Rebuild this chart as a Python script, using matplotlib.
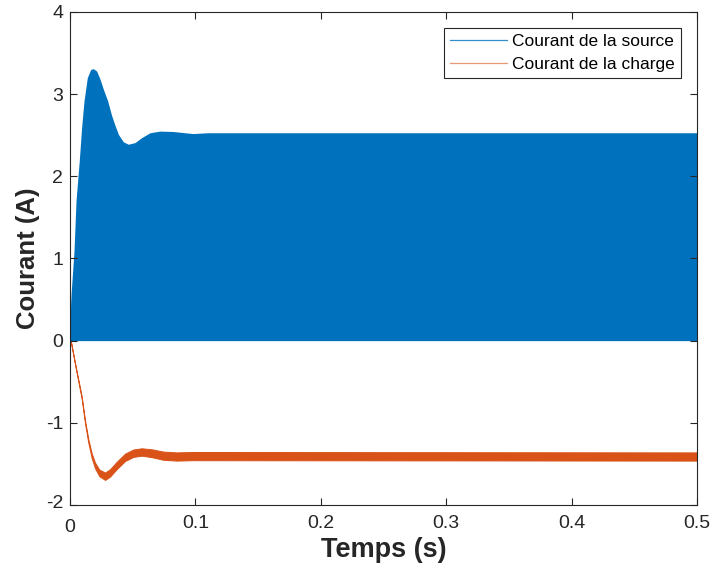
import matplotlib
matplotlib.use("Agg")
import matplotlib.pyplot as plt
from matplotlib.transforms import ScaledTranslation
import numpy as np

# Envelope of the source current (band goes from 0 up to this value)
t_src = [0, 0.0005, 0.001, 0.0032, 0.0048, 0.0074, 0.0093, 0.0112, 0.0138,
         0.0165, 0.0186, 0.0213, 0.024, 0.0266, 0.030, 0.0332, 0.0359,
         0.0386, 0.0425, 0.0465, 0.0518, 0.0571, 0.0638, 0.0718, 0.0824,
         0.098, 0.11, 0.5]
src_top = [0, 0.45, 0.6, 1.09, 1.7, 2.19, 2.60, 2.92, 3.20,
           3.30, 3.31, 3.28, 3.18, 3.06, 2.92, 2.74, 2.62,
           2.51, 2.42, 2.39, 2.41, 2.47, 2.53, 2.55, 2.545,
           2.52, 2.53, 2.53]

# Load current: centre value and ripple half-width
t_load = [0, 0.0008, 0.004, 0.0067, 0.0093, 0.012, 0.0146, 0.0173, 0.020,
          0.0234, 0.028, 0.0319, 0.0372, 0.0439, 0.0505, 0.0572, 0.0651,
          0.0744, 0.085, 0.098, 0.5]
load_mid = [0, -0.02, -0.28, -0.49, -0.69, -0.99, -1.22, -1.40, -1.52,
            -1.61, -1.65, -1.61, -1.52, -1.42, -1.37, -1.355, -1.37,
            -1.40, -1.41, -1.405, -1.41]
load_rip = [0, 0.004, 0.008, 0.012, 0.015, 0.018, 0.022, 0.028, 0.035,
            0.04, 0.045, 0.045, 0.045, 0.045, 0.045, 0.045, 0.048,
            0.05, 0.05, 0.05, 0.05]

x_ticks = [0, 0.1, 0.2, 0.3, 0.4, 0.5]
y_ticks = [-2, -1, 0, 1, 2, 3, 4]

blue = "#0072BD"
orange = "#D95319"
ink = "#262626"

plt.rcParams['font.family'] = ['Liberation Sans', 'DejaVu Sans']
plt.rcParams['axes.unicode_minus'] = False

fig = plt.figure(figsize=(7.12, 5.69), dpi=100)
ax = fig.add_axes([0.0983, 0.1125, 0.8807, 0.8665])

mid = np.array(load_mid)
rip = np.array(load_rip)

ax.fill_between(t_src, 0, src_top, color=blue, lw=0)
ax.fill_between(t_load, mid - rip, mid + rip, color=orange, lw=0.7, edgecolor=orange)

# legend handles
ax.plot([], [], color=blue, lw=0.9, alpha=0.8, label='Courant de la source')
ax.plot([], [], color=orange, lw=0.9, alpha=0.6, label='Courant de la charge')

ax.set_xlim(0, 0.5)
ax.set_ylim(-2, 4)
ax.set_xticks(x_ticks)
ax.set_xticklabels([f"{v:g}" for v in x_ticks], fontsize=14)
ax.set_yticks(y_ticks)
ax.set_yticklabels([str(v) for v in y_ticks], fontsize=14)
ax.tick_params(direction='in', top=True, right=True, length=5, width=0.8,
               colors=ink)
ax.tick_params(axis='x', pad=7)
ax.tick_params(axis='y', pad=5)
for s in ax.spines.values():
    s.set_color(ink)
    s.set_linewidth(0.8)

# matlab nudges the corner labels apart
lbl0 = ax.get_xticklabels()[0]
lbl0.set_transform(lbl0.get_transform() + ScaledTranslation(0, -4 / 100, fig.dpi_scale_trans))
lblm2 = ax.get_yticklabels()[0]
lblm2.set_transform(lblm2.get_transform() + ScaledTranslation(0, 3 / 100, fig.dpi_scale_trans))

ax.set_xlabel('Temps (s)', fontsize=19.5, fontweight='bold', color=ink, labelpad=1)
ax.set_ylabel('Courant (A)', fontsize=18.5, fontweight='bold', color=ink, labelpad=4)

leg = ax.legend(loc='upper right', fontsize=12.5, fancybox=False, framealpha=1,
                edgecolor=ink, borderaxespad=0.0, bbox_to_anchor=(0.9745, 0.967),
                handlelength=3.3, handletextpad=0.3, borderpad=0.35, labelspacing=0.45)
leg.get_frame().set_linewidth(0.8)

fig.savefig('out.png', dpi=100)
